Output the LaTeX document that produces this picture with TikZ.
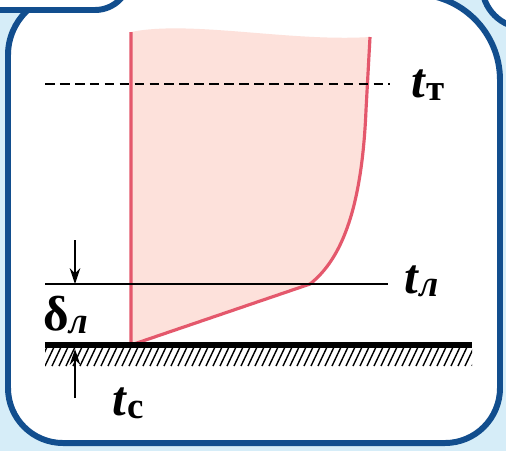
\documentclass[tikz,border=0pt]{standalone}
\usepackage{fontspec}
\setmainfont{Liberation Serif}
\usetikzlibrary{arrows.meta}

\definecolor{bgblue}{RGB}{214,237,248}
\definecolor{frameblue}{RGB}{18,78,142}
\definecolor{profred}{RGB}{228,88,108}
\definecolor{proffill}{RGB}{253,225,219}

% subscript of the labels
\newcommand{\lsub}[1]{\raisebox{-2pt}{\fontsize{21}{22}\selectfont\bfseries #1}}

\begin{document}
\begin{tikzpicture}[
  x=0.02cm, y=-0.02cm,
  >={Stealth[length=9pt,width=6pt]},
  frame/.style={draw=frameblue, line width=3.4pt, fill=white},
  profile/.style={draw=profred, line width=1.8pt, line join=round},
  level/.style={line width=0.9pt},
  hatch/.style={line width=0.8pt},
  lbl/.style={anchor=base west, inner sep=0pt, font=\fontsize{28}{30}\selectfont},
]
\useasboundingbox (0,0) rectangle (506,451);
\clip (0,0) rectangle (506,451);
\fill[bgblue] (0,0) rectangle (506,451);

% frames
\path[frame] (8,388) -- (8,55) arc[start angle=180, end angle=270, radius=61]
  -- (414,-6) arc[start angle=270, end angle=360, radius=86]
  -- (500,388) arc[start angle=0, end angle=90, radius=55]
  -- (63,443) arc[start angle=90, end angle=180, radius=55] -- cycle;
\path[frame] (-40,-80) -- (-40,10) -- (95,10)
  arc[start angle=90, end angle=0, radius=35] -- (130,-80) -- cycle;
\path[frame] (482,-80) -- (482,-15)
  arc[start angle=180, end angle=90, radius=43] -- (560,28) -- (560,-80) -- cycle;

% temperature profile
\coordinate (ptop) at (131,32);
\coordinate (pwall) at (131,345);
\coordinate (pknee) at (310,284);
\coordinate (pbend) at (366,110);
\coordinate (pend) at (370,37);

\fill[proffill] (ptop) .. controls (190,20) and (290,42) .. (pend) -- (pbend)
  .. controls (362,205) and (343,258) .. (pknee) -- (pwall) -- cycle;
\draw[profile] (ptop) -- (pwall) -- (pknee)
  .. controls (343,258) and (362,205) .. (pbend) -- (pend);

% levels
\coordinate (tleft) at (45,84);
\coordinate (tright) at (390,84);
\coordinate (lleft) at (45,284);
\coordinate (lright) at (388,284);
\draw[level, dash pattern=on 5.5pt off 3pt] (tleft) -- (tright);
\draw[level] (lleft) -- (lright);

% wall
\coordinate (wleft) at (45,345);
\coordinate (wright) at (472,345);
\draw[line width=3.4pt] (wleft) -- (wright);
\begin{scope}
  \clip (45,347) rectangle (472,366);
  \foreach \x in {38,45,...,472}
    \draw[hatch] (\x,366) -- (\x+9,347);
\end{scope}

% thickness arrows
\coordinate (atop) at (75,240);
\coordinate (atip) at (75,284);
\coordinate (bbot) at (75,398);
\coordinate (btip) at (75,349);
\draw[->, level] (atop) -- (atip);
\draw[->, level] (bbot) -- (btip);

% labels
\node[lbl] (labT) at (411,97) {\textbf{\textit{t}}\lsub{т}};
\node[lbl] (labL) at (404,293) {\textbf{\textit{t}}\lsub{\itshape л}};
\node[lbl] (labC) at (112,415) {\textbf{\textit{t}}\lsub{с}};
\node[lbl] (labD) at (43,330) {\textbf{δ}\lsub{\itshape л}};

\end{tikzpicture}
\end{document}
